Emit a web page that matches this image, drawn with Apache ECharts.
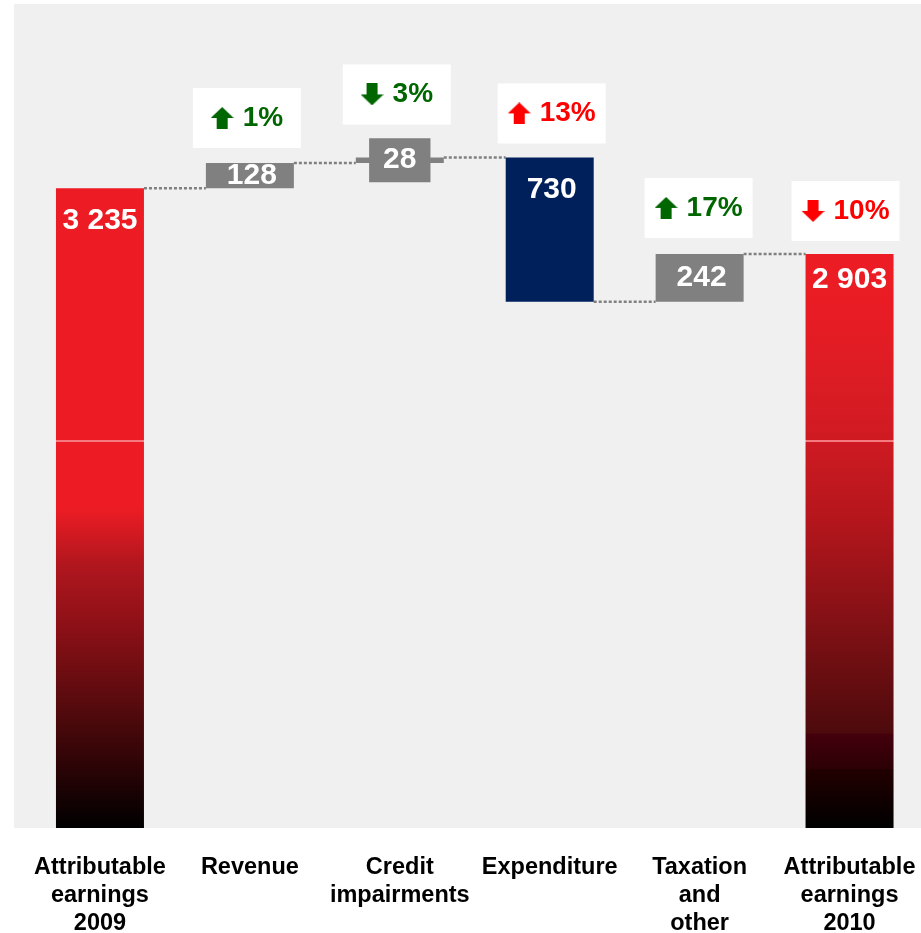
<!DOCTYPE html>
<html>
<head>
<meta charset="utf-8">
<script src="https://cdn.jsdelivr.net/npm/echarts@6/dist/echarts.min.js"></script>
<style>
  html, body { margin: 0; padding: 0; background: #ffffff; }
  #chart { width: 921px; height: 933px; }
</style>
</head>
<body>
<div id="chart"></div>
<script>
// Earnings bridge 2009 -> 2010
const categories = [
  'Attributable\nearnings\n2009',
  'Revenue',
  'Credit\nimpairments',
  'Expenditure',
  'Taxation\nand\nother',
  'Attributable\nearnings\n2010'
];
const amounts = [3235, 128, 28, 730, 242, 2903];
const kinds = ['total', 'increase', 'increase', 'decrease', 'increase', 'total'];
const changePct = [null, 1, 3, 13, 17, 10];
const changeDir = [null, 'up', 'down', 'up', 'up', 'down'];
const favourable = [null, true, true, false, true, false];

const FONT = "'Liberation Sans', Arial, Helvetica, sans-serif";
const BAR_W = 88;
const GREEN = '#006600';
const RED = '#ff0000';

// running totals -> invisible base + visible segment
const bases = [], tops = [], levels = [];
let running = 0;
amounts.forEach((v, i) => {
  if (kinds[i] === 'total') { bases.push(0); running = v; tops.push(v); }
  else if (kinds[i] === 'increase') { bases.push(running); running += v; tops.push(running); }
  else { running -= v; bases.push(running); tops.push(running + v); }
  levels.push(running);
});

function fmt(v) { return String(v).replace(/\B(?=(\d{3})+(?!\d))/g, ' '); }

function grad(stops) {
  return new echarts.graphic.LinearGradient(0, 0, 0, 1, stops);
}

// red-to-black fills of the two total columns (with the faint light seam)
const SEAM = '#f47a80';
const grad2009 = grad([
  { offset: 0, color: '#ed1c24' },
  { offset: 0.3935, color: '#ed1c24' },
  { offset: 0.3936, color: SEAM },
  { offset: 0.3966, color: SEAM },
  { offset: 0.3967, color: '#ed1c24' },
  { offset: 0.50, color: '#ed1c24' },
  { offset: 0.59, color: '#b0161e' },
  { offset: 0.69, color: '#8a1016' },
  { offset: 0.80, color: '#5a0b0e' },
  { offset: 0.90, color: '#2e0406' },
  { offset: 1, color: '#000000' }
]);
const grad2010 = grad([
  { offset: 0, color: '#ed1c24' },
  { offset: 0.10, color: '#e81c24' },
  { offset: 0.22, color: '#dc1c24' },
  { offset: 0.3245, color: '#cf1a22' },
  { offset: 0.3246, color: SEAM },
  { offset: 0.3279, color: SEAM },
  { offset: 0.328, color: '#ce1a22' },
  { offset: 0.46, color: '#b5161c' },
  { offset: 0.672, color: '#7a1014' },
  { offset: 0.835, color: '#4c0a0c' },
  { offset: 0.836, color: '#44000c' },
  { offset: 0.897, color: '#2c0006' },
  { offset: 0.898, color: '#220000' },
  { offset: 1, color: '#000000' }
]);
const totalFills = [grad2009, grad2010];

const valueLabelBase = {
  show: true,
  color: '#ffffff',
  fontFamily: FONT,
  fontWeight: 'bold',
  fontSize: 30,
  lineHeight: 30,
  formatter: p => fmt(amounts[p.dataIndex])
};

let totalSeen = 0;
const valueData = amounts.map((v, i) => {
  const item = { value: v };
  if (kinds[i] === 'total') {
    item.itemStyle = { color: totalFills[totalSeen] };
    item.label = { position: 'insideTop', distance: totalSeen === 0 ? 17 : 11 };
    totalSeen++;
  } else if (kinds[i] === 'decrease') {
    item.itemStyle = { color: '#00205c' };
    item.label = { position: 'insideTop', distance: 17, offset: [2, 0] };
  } else {
    item.itemStyle = { color: '#808080' };
    // thin segments carry their number on a grey tab
    item.label = v * 791 / 4000 < 20
      ? { position: 'inside', backgroundColor: '#808080', padding: [7, 14] }
      : { position: 'inside', offset: [2, 0] };
  }
  return item;
});

// small arrow glyphs for the change tags
function arrowCanvas(dir, color) {
  const c = document.createElement('canvas');
  c.width = 23; c.height = 22;
  const g = c.getContext('2d');
  g.fillStyle = color;
  g.beginPath();
  if (dir === 'up') {
    g.moveTo(11.5, 0); g.lineTo(23, 11); g.lineTo(17, 11); g.lineTo(17, 22);
    g.lineTo(6, 22); g.lineTo(6, 11); g.lineTo(0, 11);
  } else {
    g.moveTo(11.5, 22); g.lineTo(23, 11); g.lineTo(17, 11); g.lineTo(17, 0);
    g.lineTo(6, 0); g.lineTo(6, 11); g.lineTo(0, 11);
  }
  g.closePath();
  g.fill();
  return c;
}

const arrowRich = {};
[['up', 'g', GREEN], ['down', 'g', GREEN], ['up', 'r', RED], ['down', 'r', RED]].forEach(([d, k, col]) => {
  arrowRich[d + k] = { width: 23, height: 22, align: 'center', verticalAlign: 'middle',
    backgroundColor: { image: arrowCanvas(d, col) } };
});
const tagRich = Object.assign({}, arrowRich, {
  sp: { width: 9, align: 'center' },
  tg: { color: GREEN, fontSize: 28, fontWeight: 'bold', fontFamily: FONT, lineHeight: 28, align: 'center' },
  tr: { color: RED, fontSize: 28, fontWeight: 'bold', fontFamily: FONT, lineHeight: 28, align: 'center' }
});

const tagGap = [0, 15, 33, 14, 16, 13];
const tagShift = [0, -3, -3, 2, -1, -4];
const tagData = [];
changePct.forEach((pct, i) => {
  if (pct === null) return;
  const k = favourable[i] ? 'g' : 'r';
  tagData.push({
    value: [i, tops[i]],
    label: {
      show: true,
      position: 'top',
      distance: tagGap[i],
      offset: [tagShift[i], 0],
      formatter: `{${changeDir[i]}${k}|}{sp|}{t${k}|${pct}%}`,
      backgroundColor: '#ffffff',
      width: 108,
      padding: [16, 0],
      rich: tagRich
    }
  });
});

const connectorData = levels.slice(0, -1).map((lv, i) => [i, lv]);

const chart = echarts.init(document.getElementById('chart'), null, { renderer: 'canvas' });
chart.setOption({
  animation: false,
  backgroundColor: '#ffffff',
  graphic: [{
    type: 'rect', z: -10, silent: true,
    shape: { x: 14, y: 4, width: 907, height: 824 },
    style: { fill: '#f0f0f0' }
  }],
  grid: { left: 25, width: 899.5, top: 37, bottom: 105, containLabel: false, outerBoundsMode: 'none' },
  xAxis: {
    type: 'category',
    data: categories,
    axisLine: { show: false },
    axisTick: { show: false },
    axisLabel: {
      interval: 0,
      margin: 26,
      color: '#000000',
      fontFamily: FONT,
      fontWeight: 'bold',
      fontSize: 23.5,
      lineHeight: 28
    }
  },
  yAxis: {
    type: 'value', min: 0, max: 4000,
    show: false,
    splitLine: { show: false }
  },
  series: [
    {
      name: 'base', type: 'bar', stack: 'w', barWidth: BAR_W, silent: true,
      itemStyle: { color: 'rgba(0,0,0,0)' },
      data: bases
    },
    {
      name: 'change', type: 'bar', stack: 'w', barWidth: BAR_W,
      label: valueLabelBase,
      data: valueData
    },
    {
      name: 'connector', type: 'custom', silent: true, z: 1,
      renderItem: (params, api) => {
        const p = api.coord([api.value(0), api.value(1)]);
        const band = api.size([1, 0])[0];
        return {
          type: 'line',
          shape: { x1: p[0] + BAR_W / 2, y1: p[1], x2: p[0] + band - BAR_W / 2, y2: p[1] },
          style: { stroke: '#808080', lineWidth: 2.5, lineDash: [3, 2] }
        };
      },
      data: connectorData
    },
    {
      name: 'tags', type: 'scatter', symbolSize: 0, z: 5, silent: true,
      itemStyle: { opacity: 1 },
      data: tagData
    }
  ]
});
</script>
</body>
</html>
